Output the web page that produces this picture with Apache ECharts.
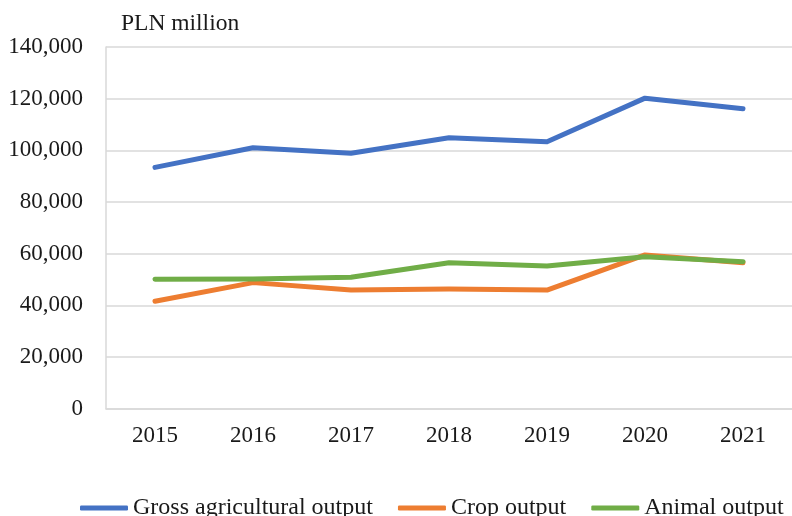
<!DOCTYPE html>
<html>
<head>
<meta charset="utf-8">
<script src="https://cdn.jsdelivr.net/npm/echarts@6/dist/echarts.min.js"></script>
<style>
  html, body { margin: 0; padding: 0; background: #fff; }
  #chart { width: 792px; height: 516px; }
</style>
</head>
<body>
<div id="chart"></div>
<script>
// Agricultural output in Poland, PLN million
const years = ['2015', '2016', '2017', '2018', '2019', '2020', '2021'];
const grossOutput = [93400, 101000, 98900, 104900, 103300, 120200, 116100];
const cropOutput = [41600, 48800, 45900, 46300, 45900, 59500, 56500];
const animalOutput = [50100, 50200, 50900, 56500, 55200, 58800, 56900];
const yTicks = { min: 0, max: 140000, step: 20000 };

const font = 'Liberation Serif, Times New Roman, serif';
const textColor = '#1a1a1a';

const chart = echarts.init(document.getElementById('chart'), null, { renderer: 'canvas' });

function lineSeries(name, data, color) {
  return {
    name: name,
    type: 'line',
    data: data,
    symbol: 'none',
    smooth: false,
    lineStyle: { width: 5, color: color, cap: 'round', join: 'round' },
    itemStyle: { color: color },
    emphasis: { disabled: true }
  };
}

chart.setOption({
  animation: false,
  backgroundColor: '#ffffff',
  textStyle: { fontFamily: font, color: textColor },
  title: {
    text: 'PLN million',
    left: 116,
    top: 7,
    textStyle: { fontFamily: font, fontSize: 23.5, fontWeight: 'normal', color: textColor }
  },
  grid: { left: 106, top: 47, width: 690, height: 361.7, containLabel: false },
  xAxis: {
    type: 'category',
    data: years,
    boundaryGap: true,
    axisLine: { show: true, lineStyle: { color: '#d9d9d9', width: 1.5 } },
    axisTick: { show: false },
    splitLine: { show: false },
    axisLabel: { fontFamily: font, fontSize: 23, color: textColor, margin: 16 }
  },
  yAxis: {
    type: 'value',
    min: yTicks.min,
    max: yTicks.max,
    interval: yTicks.step,
    axisLine: { show: true, lineStyle: { color: '#d9d9d9', width: 1.5 } },
    axisTick: { show: false },
    splitLine: { show: true, lineStyle: { color: '#d9d9d9', width: 1.5 } },
    axisLabel: {
      fontFamily: font, fontSize: 23, color: textColor, margin: 23,
      formatter: v => v.toLocaleString('en-US')
    }
  },
  legend: {
    left: 80,
    top: 496,
    width: 760,
    padding: 0,
    itemWidth: 48,
    itemHeight: 5,
    itemGap: 25,
    icon: 'roundRect',
    textStyle: { fontFamily: font, fontSize: 24, color: textColor },
    data: ['Gross agricultural output', 'Crop output', 'Animal output']
  },
  series: [
    lineSeries('Gross agricultural output', grossOutput, '#4472c4'),
    lineSeries('Crop output', cropOutput, '#ed7d31'),
    lineSeries('Animal output', animalOutput, '#70ad47')
  ]
});
</script>
</body>
</html>
